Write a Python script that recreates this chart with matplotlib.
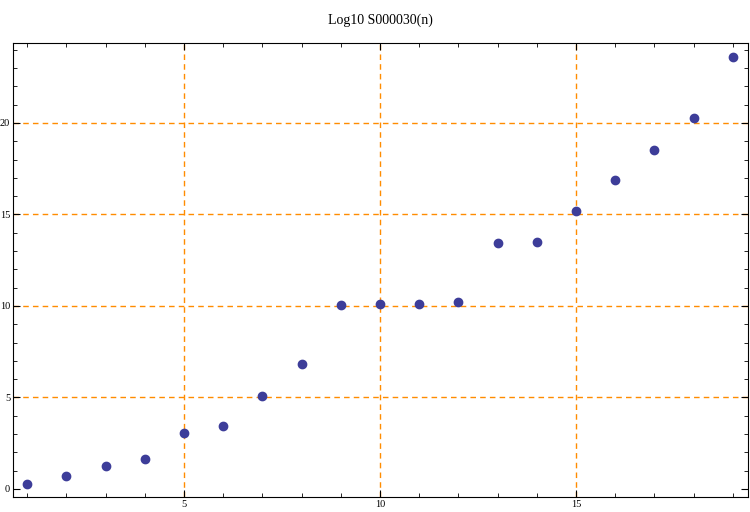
import numpy as np
import matplotlib
matplotlib.use('Agg')
import matplotlib.pyplot as plt
from matplotlib.ticker import MultipleLocator

plt.rcParams['font.family'] = ['Liberation Serif', 'DejaVu Serif']

n = np.arange(1, 20)
log_vals = [0.27, 0.71, 1.26, 1.64, 3.06, 3.44, 5.08, 6.83, 10.05, 10.1,
            10.1, 10.2, 13.44, 13.5, 15.19, 16.89, 18.52, 20.27, 23.6]

fig = plt.figure(figsize=(7.5, 5.12), dpi=100)
ax = fig.add_axes([0.0173, 0.0293, 0.9797, 0.8867])

grid_style = dict(color='#FF8C00', linestyle=(0, (4, 3)), linewidth=1, zorder=1)
for gx in [5, 10, 15]:
    ax.axvline(gx, **grid_style)
for gy in [5, 10, 15, 20]:
    ax.axhline(gy, **grid_style)

ax.plot(n, log_vals, 'o', color='#3D3D99', markersize=6, zorder=3)

ax.set_xlim(0.64, 19.38)
ax.set_ylim(-0.44, 24.37)
ax.xaxis.set_major_locator(MultipleLocator(5))
ax.xaxis.set_minor_locator(MultipleLocator(1))
ax.yaxis.set_major_locator(MultipleLocator(5))
ax.yaxis.set_minor_locator(MultipleLocator(1))
ax.tick_params(which='both', direction='in', top=True, right=True,
               labelsize=7.5, pad=2)
ax.tick_params(which='major', length=5)
ax.tick_params(which='minor', length=3)
ax.set_title('Log10 S000030(n)', fontsize=10, pad=14)

fig.savefig('out.png', dpi=100)
